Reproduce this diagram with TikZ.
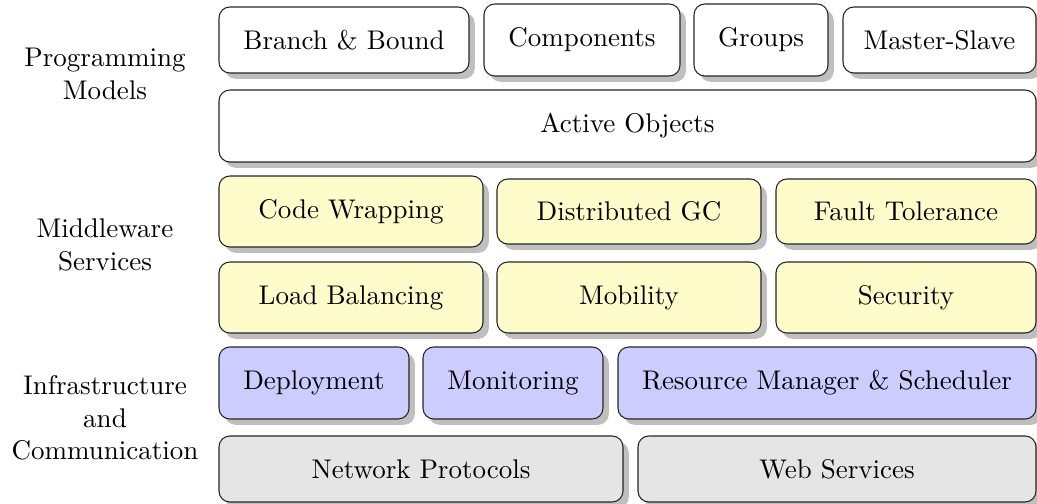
\documentclass[tikz,border=0pt]{standalone}
\usetikzlibrary{shadows}
\begin{document}
\begin{tikzpicture}[x=0.37037pt,y=0.37037pt,
  box/.style={draw=black!85, rounded corners=4pt, drop shadow, inner sep=0pt},
  sz/.style 2 args={minimum width=#1pt/2.7, minimum height=#2pt/2.7},
  pm/.style={box, fill=white},
  ms/.style={box, fill=yellow!20},
  inf/.style={box, fill=blue!20},
  com/.style={box, fill=gray!20},
  lbl/.style={align=center, inner sep=0pt}]
\useasboundingbox (0,0) rectangle (1037,-504);
% Programming models
\node[pm, sz={250}{66}] (bb) at (344,-40) {Branch \& Bound};
\node[pm, sz={196}{72}] (comp) at (582,-40) {Components};
\node[pm, sz={134}{72}] (grp) at (761,-40) {Groups};
\node[pm, sz={193}{66}] (msl) at (939.5,-40) {Master-Slave};
\node[pm, sz={817}{72}] (ao) at (627.5,-126) {Active Objects};
% Middleware services
\node[ms, sz={264}{71}] (cw) at (351,-211.5) {Code Wrapping};
\node[ms, sz={264}{65}] (dgc) at (629,-211.5) {Distributed GC};
\node[ms, sz={260}{65}] (ft) at (906,-211.5) {Fault Tolerance};
\node[ms, sz={264}{71}] (lb) at (351,-297.5) {Load Balancing};
\node[ms, sz={264}{71}] (mob) at (629,-297.5) {Mobility};
\node[ms, sz={260}{71}] (sec) at (906,-297.5) {Security};
% Infrastructure
\node[inf, sz={190}{72}] (dep) at (314,-383) {Deployment};
\node[inf, sz={180}{72}] (mon) at (513,-383) {Monitoring};
\node[inf, sz={418}{72}] (rm) at (827,-383) {Resource Manager \& Scheduler};
\node[com, sz={404}{66}] (np) at (421,-469) {Network Protocols};
\node[com, sz={398}{66}] (ws) at (837,-469) {Web Services};
% Layer labels
\node[lbl] (lpm) at (105,-74) {Programming\\Models};
\node[lbl] (lms) at (105,-245) {Middleware\\Services};
\node[lbl] (lic) at (105,-418) {Infrastructure\\and\\Communication};
\end{tikzpicture}
\end{document}
